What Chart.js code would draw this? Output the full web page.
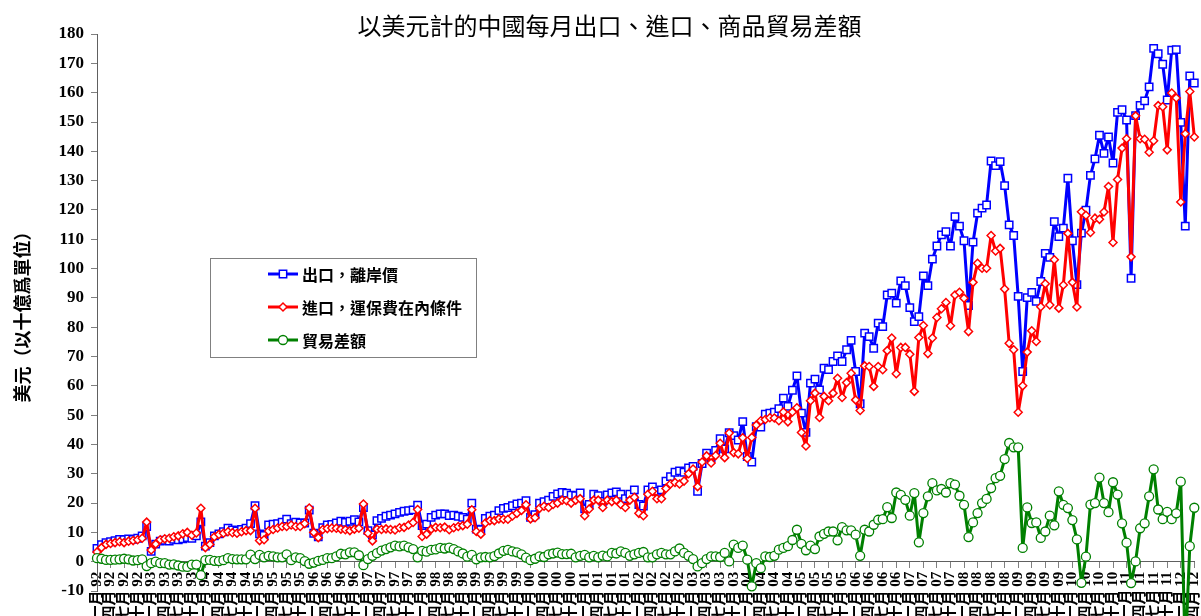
<!DOCTYPE html>
<html lang="zh-Hant">
<head>
<meta charset="utf-8">
<title>以美元計的中國每月出口、進口、商品貿易差額</title>
<script src="https://cdn.jsdelivr.net/npm/chart.js@4.4.1/dist/chart.umd.min.js"></script>
<style>
  html, body { margin: 0; padding: 0; background: #fff; }
</style>
</head>
<body>
<canvas id="tradeChart" width="1201" height="616"></canvas>
<script>
"use strict";

// monthly, Jan 1992 .. Apr 2012, billions of US$
const monthNames = ["一月", "二月", "三月", "四月", "五月", "六月", "七月", "八月", "九月", "十月", "十一月", "十二月"];
const years = ["92", "93", "94", "95", "96", "97", "98", "99", "00", "01", "02", "03", "04", "05", "06", "07", "08", "09", "10", "11", "12"];

const exportsFob = [
  4.5, 5.8, 6.5, 6.8, 7.2, 7.6, 7.5, 7.8, 7.6, 8.0, 8.8, 12.0, // 92
  3.5, 6.0, 7.0, 7.3, 7.0, 7.6, 7.5, 7.8, 8.2, 8.0, 8.8, 13.6, // 93
  5.3, 6.5, 8.8, 9.5, 10.2, 11.4, 10.8, 10.5, 11.0, 11.4, 13.0, 19.1, // 94
  9.5, 9.0, 12.5, 12.8, 13.0, 13.5, 14.5, 13.0, 13.5, 13.2, 13.2, 17.6, // 95
  9.7, 8.5, 11.6, 12.5, 12.7, 13.2, 13.8, 13.4, 13.8, 14.3, 13.6, 18.5, // 96
  10.6, 9.1, 14.0, 14.8, 15.5, 15.9, 16.3, 16.8, 17.2, 17.4, 17.7, 19.3, // 97
  12.3, 12.8, 15.1, 15.9, 16.3, 16.3, 15.7, 15.9, 15.5, 15.1, 14.5, 20.0, // 98
  11.1, 10.9, 14.8, 15.5, 15.9, 17.4, 18.2, 18.5, 19.1, 19.7, 20.0, 20.8, // 99
  15.1, 16.0, 20.0, 20.5, 21.0, 22.3, 23.1, 23.6, 23.4, 22.7, 22.5, 23.5, // 00
  18.0, 19.5, 23.0, 22.5, 20.6, 22.8, 23.5, 23.8, 23.0, 21.5, 23.0, 24.5, // 01
  19.5, 19.0, 24.5, 25.5, 24.0, 24.5, 27.5, 29.0, 30.5, 31.0, 30.5, 32.0, // 02
  32.5, 24.0, 33.5, 37.0, 35.5, 38.0, 42.0, 38.5, 44.0, 43.0, 41.5, 47.8, // 03
  35.9, 34.0, 46.1, 45.9, 50.3, 50.7, 51.0, 52.2, 55.8, 53.0, 58.5, 63.4, // 04
  50.7, 44.1, 60.9, 62.3, 58.6, 66.0, 65.5, 68.3, 70.2, 68.3, 72.3, 75.5, // 05
  64.9, 53.9, 78.0, 76.8, 72.8, 81.4, 80.2, 91.0, 91.6, 88.2, 95.8, 94.2, // 06
  86.7, 81.9, 83.6, 97.5, 94.2, 103.2, 107.7, 111.5, 112.6, 107.7, 117.7, 114.5, // 07
  109.5, 87.4, 109.0, 118.9, 120.6, 121.7, 136.7, 135.1, 136.5, 128.3, 114.9, 111.3, // 08
  90.5, 64.9, 90.1, 91.9, 88.8, 95.6, 105.2, 103.8, 116.0, 110.9, 113.8, 130.8, // 09
  109.5, 94.5, 112.1, 119.9, 131.8, 137.4, 145.5, 139.3, 144.9, 136.0, 153.3, 154.2, // 10
  150.7, 96.7, 152.2, 155.7, 157.2, 162.0, 175.1, 173.3, 169.7, 157.5, 174.5, 174.7, // 11
  149.9, 114.5, 165.7, 163.3 // 12
];

const importsCif = [
  3.3, 4.8, 5.9, 6.2, 6.5, 6.8, 6.5, 7.0, 7.2, 7.5, 8.0, 13.5,
  4.0, 6.0, 7.5, 7.8, 8.0, 8.5, 8.8, 9.5, 10.0, 9.0, 9.8, 18.2,
  4.8, 5.9, 8.5, 9.3, 9.7, 10.2, 9.9, 9.7, 10.2, 10.6, 10.6, 18.2,
  7.2, 7.5, 10.5, 11.0, 11.5, 12.0, 12.0, 12.5, 12.0, 12.0, 13.0, 18.3,
  10.0, 8.2, 11.0, 11.3, 11.5, 11.4, 11.1, 10.9, 10.6, 11.1, 11.4, 19.7,
  9.7, 7.1, 11.1, 11.0, 11.2, 11.0, 10.8, 11.6, 11.7, 12.5, 13.4, 17.8,
  8.6, 9.4, 11.1, 11.7, 11.6, 11.8, 10.9, 11.6, 12.0, 12.3, 12.8, 17.7,
  10.3, 9.4, 13.2, 14.0, 14.0, 14.6, 14.5, 14.5, 15.6, 16.5, 17.5, 19.4,
  14.6, 15.0, 18.2, 18.9, 18.5, 19.5, 20.0, 21.0, 20.8, 20.0, 21.0, 21.5,
  15.7, 18.0, 21.0, 21.0, 18.5, 21.0, 20.5, 21.0, 19.5, 18.5, 21.0, 22.0,
  16.5, 15.7, 23.0, 24.0, 21.5, 21.5, 25.0, 26.5, 27.0, 26.5, 27.5, 30.0,
  31.6, 25.6, 34.0, 36.1, 33.7, 36.2, 40.4, 35.5, 43.9, 37.2, 36.8, 42.3,
  35.2, 42.4, 46.6, 48.1, 48.5, 49.1, 49.0, 48.1, 51.1, 47.7, 51.1, 52.5,
  44.1, 39.5, 54.9, 57.5, 49.2, 56.4, 54.9, 57.5, 62.6, 56.0, 61.1, 64.3,
  55.2, 51.6, 66.8, 66.6, 59.8, 66.6, 65.5, 72.0, 76.3, 64.1, 73.1, 73.1,
  70.8, 58.1, 76.5, 80.6, 71.0, 76.3, 83.3, 86.3, 88.4, 80.5, 91.0, 91.9,
  89.9, 78.5, 95.3, 101.8, 100.1, 100.1, 111.3, 106.0, 106.9, 93.0, 74.5, 72.3,
  51.0, 60.0, 71.5, 78.8, 75.1, 87.0, 94.8, 87.6, 103.0, 86.5, 94.4, 112.0,
  95.3, 86.9, 119.4, 118.2, 112.3, 117.2, 116.8, 119.3, 128.0, 108.9, 130.4, 141.1,
  144.3, 104.0, 152.1, 144.3, 144.1, 139.7, 143.6, 155.6, 155.2, 140.5, 159.9, 158.2,
  122.7, 146.0, 160.4, 144.9
];

const tradeBalance = [
  1.2, 1.0, 0.6, 0.6, 0.7, 0.8, 1.0, 0.8, 0.4, 0.5, 0.8, -1.5,
  -0.5, 0.0, -0.5, -0.5, -1.0, -0.9, -1.3, -1.7, -1.8, -1.0, -1.0, -4.6,
  0.5, 0.6, 0.3, 0.2, 0.5, 1.2, 0.9, 0.8, 0.8, 0.8, 2.4, 0.9,
  2.3, 1.5, 2.0, 1.8, 1.5, 1.5, 2.5, 0.5, 1.5, 1.2, 0.2, -0.7,
  -0.3, 0.3, 0.6, 1.2, 1.2, 1.8, 2.7, 2.5, 3.2, 3.2, 2.2, -1.2,
  0.9, 2.0, 2.9, 3.8, 4.3, 4.9, 5.5, 5.2, 5.5, 4.9, 4.3, 1.5,
  3.7, 3.4, 4.0, 4.2, 4.7, 4.5, 4.8, 4.3, 3.5, 2.8, 1.7, 2.3,
  0.8, 1.5, 1.6, 1.5, 1.9, 2.8, 3.7, 4.0, 3.5, 3.2, 2.5, 1.4,
  0.5, 1.0, 1.8, 1.6, 2.5, 2.8, 3.1, 2.6, 2.6, 2.7, 1.5, 2.0,
  2.3, 1.5, 2.0, 1.5, 2.1, 1.8, 3.0, 2.8, 3.5, 3.0, 2.0, 2.5,
  3.0, 3.3, 1.5, 1.5, 2.5, 3.0, 2.5, 2.5, 3.5, 4.5, 3.0, 2.0,
  0.9, -1.6, -0.5, 0.9, 1.8, 1.8, 1.6, 3.0, 0.1, 5.8, 4.7, 5.5,
  0.7, -8.4, -0.5, -2.2, 1.8, 1.6, 2.0, 4.1, 4.7, 5.3, 7.4, 10.9,
  6.1, 3.9, 5.5, 4.3, 8.6, 9.5, 10.3, 10.3, 7.3, 11.8, 10.7, 10.7,
  9.2, 2.0, 10.9, 10.3, 12.6, 14.3, 14.5, 18.6, 14.9, 23.6, 22.8, 21.1,
  15.7, 23.4, 6.6, 16.6, 22.3, 26.8, 24.3, 24.8, 23.6, 26.8, 26.3, 22.5,
  19.4, 8.4, 13.4, 16.6, 20.0, 21.4, 25.1, 28.5, 29.3, 35.0, 40.5, 39.0,
  39.0, 4.7, 18.5, 13.2, 13.4, 8.1, 10.3, 15.7, 12.4, 24.0, 19.4, 18.3,
  14.2, 7.6, -7.2, 1.7, 19.5, 20.0, 28.7, 20.0, 16.9, 27.1, 22.9, 13.1,
  6.5, -7.3, 0.1, 11.4, 13.1, 22.3, 31.5, 17.8, 14.5, 17.0, 14.5, 16.5,
  27.3, -31.5, 5.3, 18.4
];

// "一月 92", "二月 92", ... one per data point
const monthLabels = [];
years.forEach((yy) => monthNames.forEach((m) => monthLabels.push(`${m} ${yy}`)));
monthLabels.length = exportsFob.length;

const cjk = "'Noto Sans CJK TC', 'Noto Sans CJK SC', sans-serif";
const serifBold = { family: "'Liberation Serif', 'Times New Roman', " + cjk, weight: "bold" };

Chart.defaults.font.family = cjk;
Chart.defaults.color = "#000";

function drawMarker(ctx, ds, x, y) {
  const r = ds.pointRadius;
  ctx.fillStyle = ds.pointBackgroundColor;
  ctx.strokeStyle = ds.pointBorderColor;
  ctx.lineWidth = ds.pointBorderWidth;
  ctx.beginPath();
  if (ds.pointStyle === "rect") {
    const s = r * Math.SQRT1_2;
    ctx.rect(x - s, y - s, 2 * s, 2 * s);
  } else if (ds.pointStyle === "rectRot") {
    ctx.moveTo(x - r, y);
    ctx.lineTo(x, y - r);
    ctx.lineTo(x + r, y);
    ctx.lineTo(x, y + r);
    ctx.closePath();
  } else {
    ctx.arc(x, y, r, 0, Math.PI * 2);
  }
  ctx.fill();
  ctx.stroke();
}

// boxed legend sitting inside the plot, like the original
const boxLegend = {
  id: "boxLegend",
  afterDatasetsDraw(chart) {
    const ctx = chart.ctx;
    ctx.save();
    ctx.fillStyle = "#fff";
    ctx.fillRect(210.5, 258.5, 266, 99);
    ctx.strokeStyle = "#808080";
    ctx.lineWidth = 1;
    ctx.strokeRect(210.5, 258.5, 266, 99);
    chart.data.datasets.forEach((ds, i) => {
      const y = 274 + i * 33;
      ctx.strokeStyle = ds.borderColor;
      ctx.lineWidth = 3;
      ctx.beginPath();
      ctx.moveTo(268, y);
      ctx.lineTo(298, y);
      ctx.stroke();
      drawMarker(ctx, ds, 283, y);
      ctx.fillStyle = "#000";
      ctx.font = "bold 16px " + cjk;
      ctx.textBaseline = "middle";
      ctx.textAlign = "left";
      ctx.fillText(ds.label, 302, y + 1);
    });
    ctx.restore();
  },
};

const data = {
  labels: monthLabels,
  datasets: [
    {
      label: "出口，離岸價",
      data: exportsFob,
      borderColor: "#0000ff",
      backgroundColor: "#ffffff",
      borderWidth: 3,
      borderJoinStyle: "round",
      pointStyle: "rect",
      pointRadius: 5.2,
      pointBorderWidth: 1.5,
      pointBorderColor: "#0000ff",
      pointBackgroundColor: "#ffffff",
      order: 3,
    },
    {
      label: "進口，運保費在內條件",
      data: importsCif,
      borderColor: "#ff0000",
      backgroundColor: "#ffffff",
      borderWidth: 3,
      borderJoinStyle: "round",
      pointStyle: "rectRot",
      pointRadius: 4,
      pointBorderWidth: 1.5,
      pointBorderColor: "#ff0000",
      pointBackgroundColor: "#ffffff",
      order: 2,
    },
    {
      label: "貿易差額",
      data: tradeBalance,
      borderColor: "#008000",
      backgroundColor: "#ffffff",
      borderWidth: 3,
      borderJoinStyle: "round",
      pointStyle: "circle",
      pointRadius: 4.5,
      pointBorderWidth: 1.3,
      pointBorderColor: "#008000",
      pointBackgroundColor: "#ffffff",
      order: 1,
      clip: false,
    },
  ],
};

const config = {
  type: "line",
  data: data,
  options: {
    responsive: false,
    animation: false,
    tension: 0,
    layout: {
      padding: { top: 0, right: 4, bottom: 25, left: 22 },
    },
    plugins: {
      legend: { display: false },
      tooltip: { enabled: false },
      title: {
        display: true,
        text: "以美元計的中國每月出口、進口、商品貿易差額",
        color: "#000",
        font: { family: cjk, size: 24, weight: "normal", lineHeight: 0.92 },
        padding: { top: 15, bottom: -3 },
      },
    },
    scales: {
      x: {
        type: "category",
        position: { y: 0 },
        offset: false,
        grid: { drawOnChartArea: false, drawTicks: true, tickLength: 6, color: "#808080" },
        border: { display: true, color: "#606060", width: 1 },
        ticks: {
          autoSkip: false,
          minRotation: 90,
          maxRotation: 90,
          padding: 4,
          color: "#000",
          font: { ...serifBold, size: 15 },
          // one label per quarter
          callback: function (value, index) {
            return index % 3 === 0 ? this.getLabelForValue(value) : null;
          },
        },
        afterFit(scale) {
          scale.height = 0;
          scale.paddingLeft = 0;
          scale.paddingRight = 0;
        },
      },
      y: {
        min: -10,
        max: 180,
        grid: { drawOnChartArea: false, drawTicks: true, tickLength: 6, color: "#808080" },
        border: { display: true, color: "#606060", width: 1 },
        ticks: {
          stepSize: 10,
          padding: 7,
          color: "#000",
          font: { ...serifBold, size: 17 },
        },
        title: {
          display: true,
          text: "美元（以十億爲單位）",
          color: "#000",
          font: { family: cjk, size: 18, weight: "bold" },
          padding: { top: -11, bottom: 0 },
        },
        afterFit(scale) {
          scale.width = 75;
          scale.paddingTop = 0;
          scale.paddingBottom = 0;
        },
      },
    },
  },
  plugins: [boxLegend],
};

const tradeChart = new Chart(document.getElementById("tradeChart"), config);
</script>
</body>
</html>
